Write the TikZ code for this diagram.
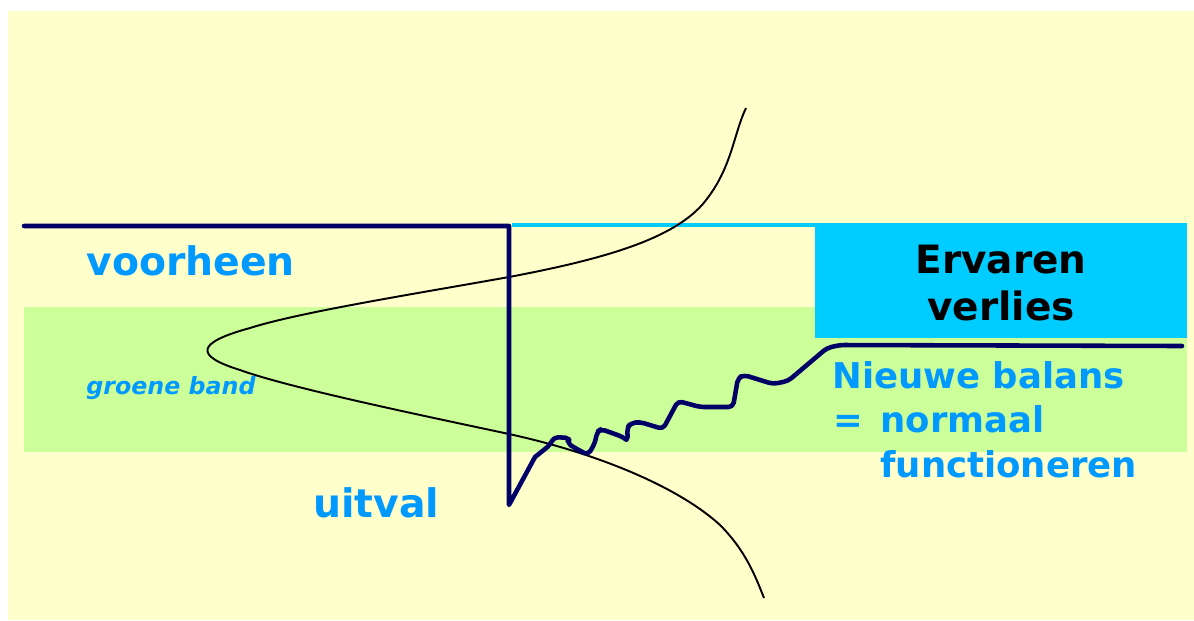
\documentclass[tikz,border=0pt]{standalone}
\usepackage{fontspec}
\setmainfont{DejaVu Sans}
\usepackage{tikz}
\usetikzlibrary{positioning}
\usepackage{xcolor}
\definecolor{paleyellow}{HTML}{FFFFCC}
\definecolor{bandgreen}{HTML}{CCFF99}
\definecolor{losscyan}{HTML}{00CCFF}
\definecolor{textblue}{HTML}{0099FF}
\definecolor{navy}{HTML}{000066}

\begin{document}
\begin{tikzpicture}[
    x=0.02cm, y=-0.02cm,
    navyline/.style={draw=navy, line width=2.6pt, line join=round, line cap=round},
    bell/.style={draw=black, line width=1.1pt},
    lbl/.style={font=\bfseries\fontsize{22.4pt}{26pt}\selectfont, text=textblue, inner sep=0pt, anchor=base west},
    bal/.style={font=\bfseries\fontsize{20.2pt}{25pt}\selectfont, text=textblue, inner sep=0pt, anchor=base west},
]
  \useasboundingbox (0,0) rectangle (1194,620);

  % ---- Background and bands ----
  \fill[paleyellow] (8,11) rectangle (1194,620);
  \fill[bandgreen] (24,307) rectangle (1187,452);
  \fill[losscyan] (815,223) rectangle (1187,338);
  \draw[losscyan, line width=2.1pt] (512,225) -- (815,225);

  % ---- Sideways bell curve ----
  \draw[bell] (746,108) .. controls (733,135) and (732,170) .. (702,205)
    .. controls (672,238) and (610,258) .. (509,277)
    .. controls (420,293) and (300,312) .. (250,328)
    .. controls (195,343) and (195,356) .. (240,370)
    .. controls (290,388) and (420,415) .. (509,434)
    .. controls (605,455) and (682,490) .. (720,525)
    .. controls (745,550) and (755,575) .. (764,598);

  % ---- Level before, drop and recovery ----
  \coordinate (start) at (24,226);
  \coordinate (corner) at (509,226);
  \coordinate (drop) at (509,505);
  \coordinate (level) at (1182,346);
  \draw[navyline] (start) -- (corner) -- (drop) -- (535,457)
    [rounded corners=2.5pt]
    -- (550,445) -- (554,437) -- (570,438) -- (567,443) -- (575,448)
    -- (588,455) -- (595,443) -- (597,432) -- (601,429) -- (623,437)
    -- (628,441) -- (627,428) -- (631,423) -- (640,422) -- (663,429)
    -- (678,401) -- (700,407) -- (733,407) -- (738,378) -- (744,375)
    -- (773,384) -- (788,381) -- (827,348) -- (840,345) -- (level);

  % ---- Labels ----
  \node[lbl] (before) at (86,275) {voorheen};
  \node[lbl] (fall) at (313,517) {uitval};
  \node[font=\bfseries\itshape\fontsize{13.5pt}{16pt}\selectfont, text=textblue,
        inner sep=0pt, anchor=base west] (band) at (86,394) {groene band};

  \node[font=\bfseries\fontsize{22.2pt}{26pt}\selectfont, inner sep=0pt,
        anchor=base] (loss1) at (1001,273) {Ervaren};
  \node[font=\bfseries\fontsize{22.2pt}{26pt}\selectfont, inner sep=0pt,
        anchor=base] (loss2) at (1001,320) {verlies};

  \node[bal] (bal1) at (832,388) {Nieuwe balans};
  \node[bal] (eq) at (833,432) {=};
  \node[bal] (bal2) at (880,432) {normaal};
  \node[bal] (bal3) at (880,477) {functioneren};

\end{tikzpicture}
\end{document}
